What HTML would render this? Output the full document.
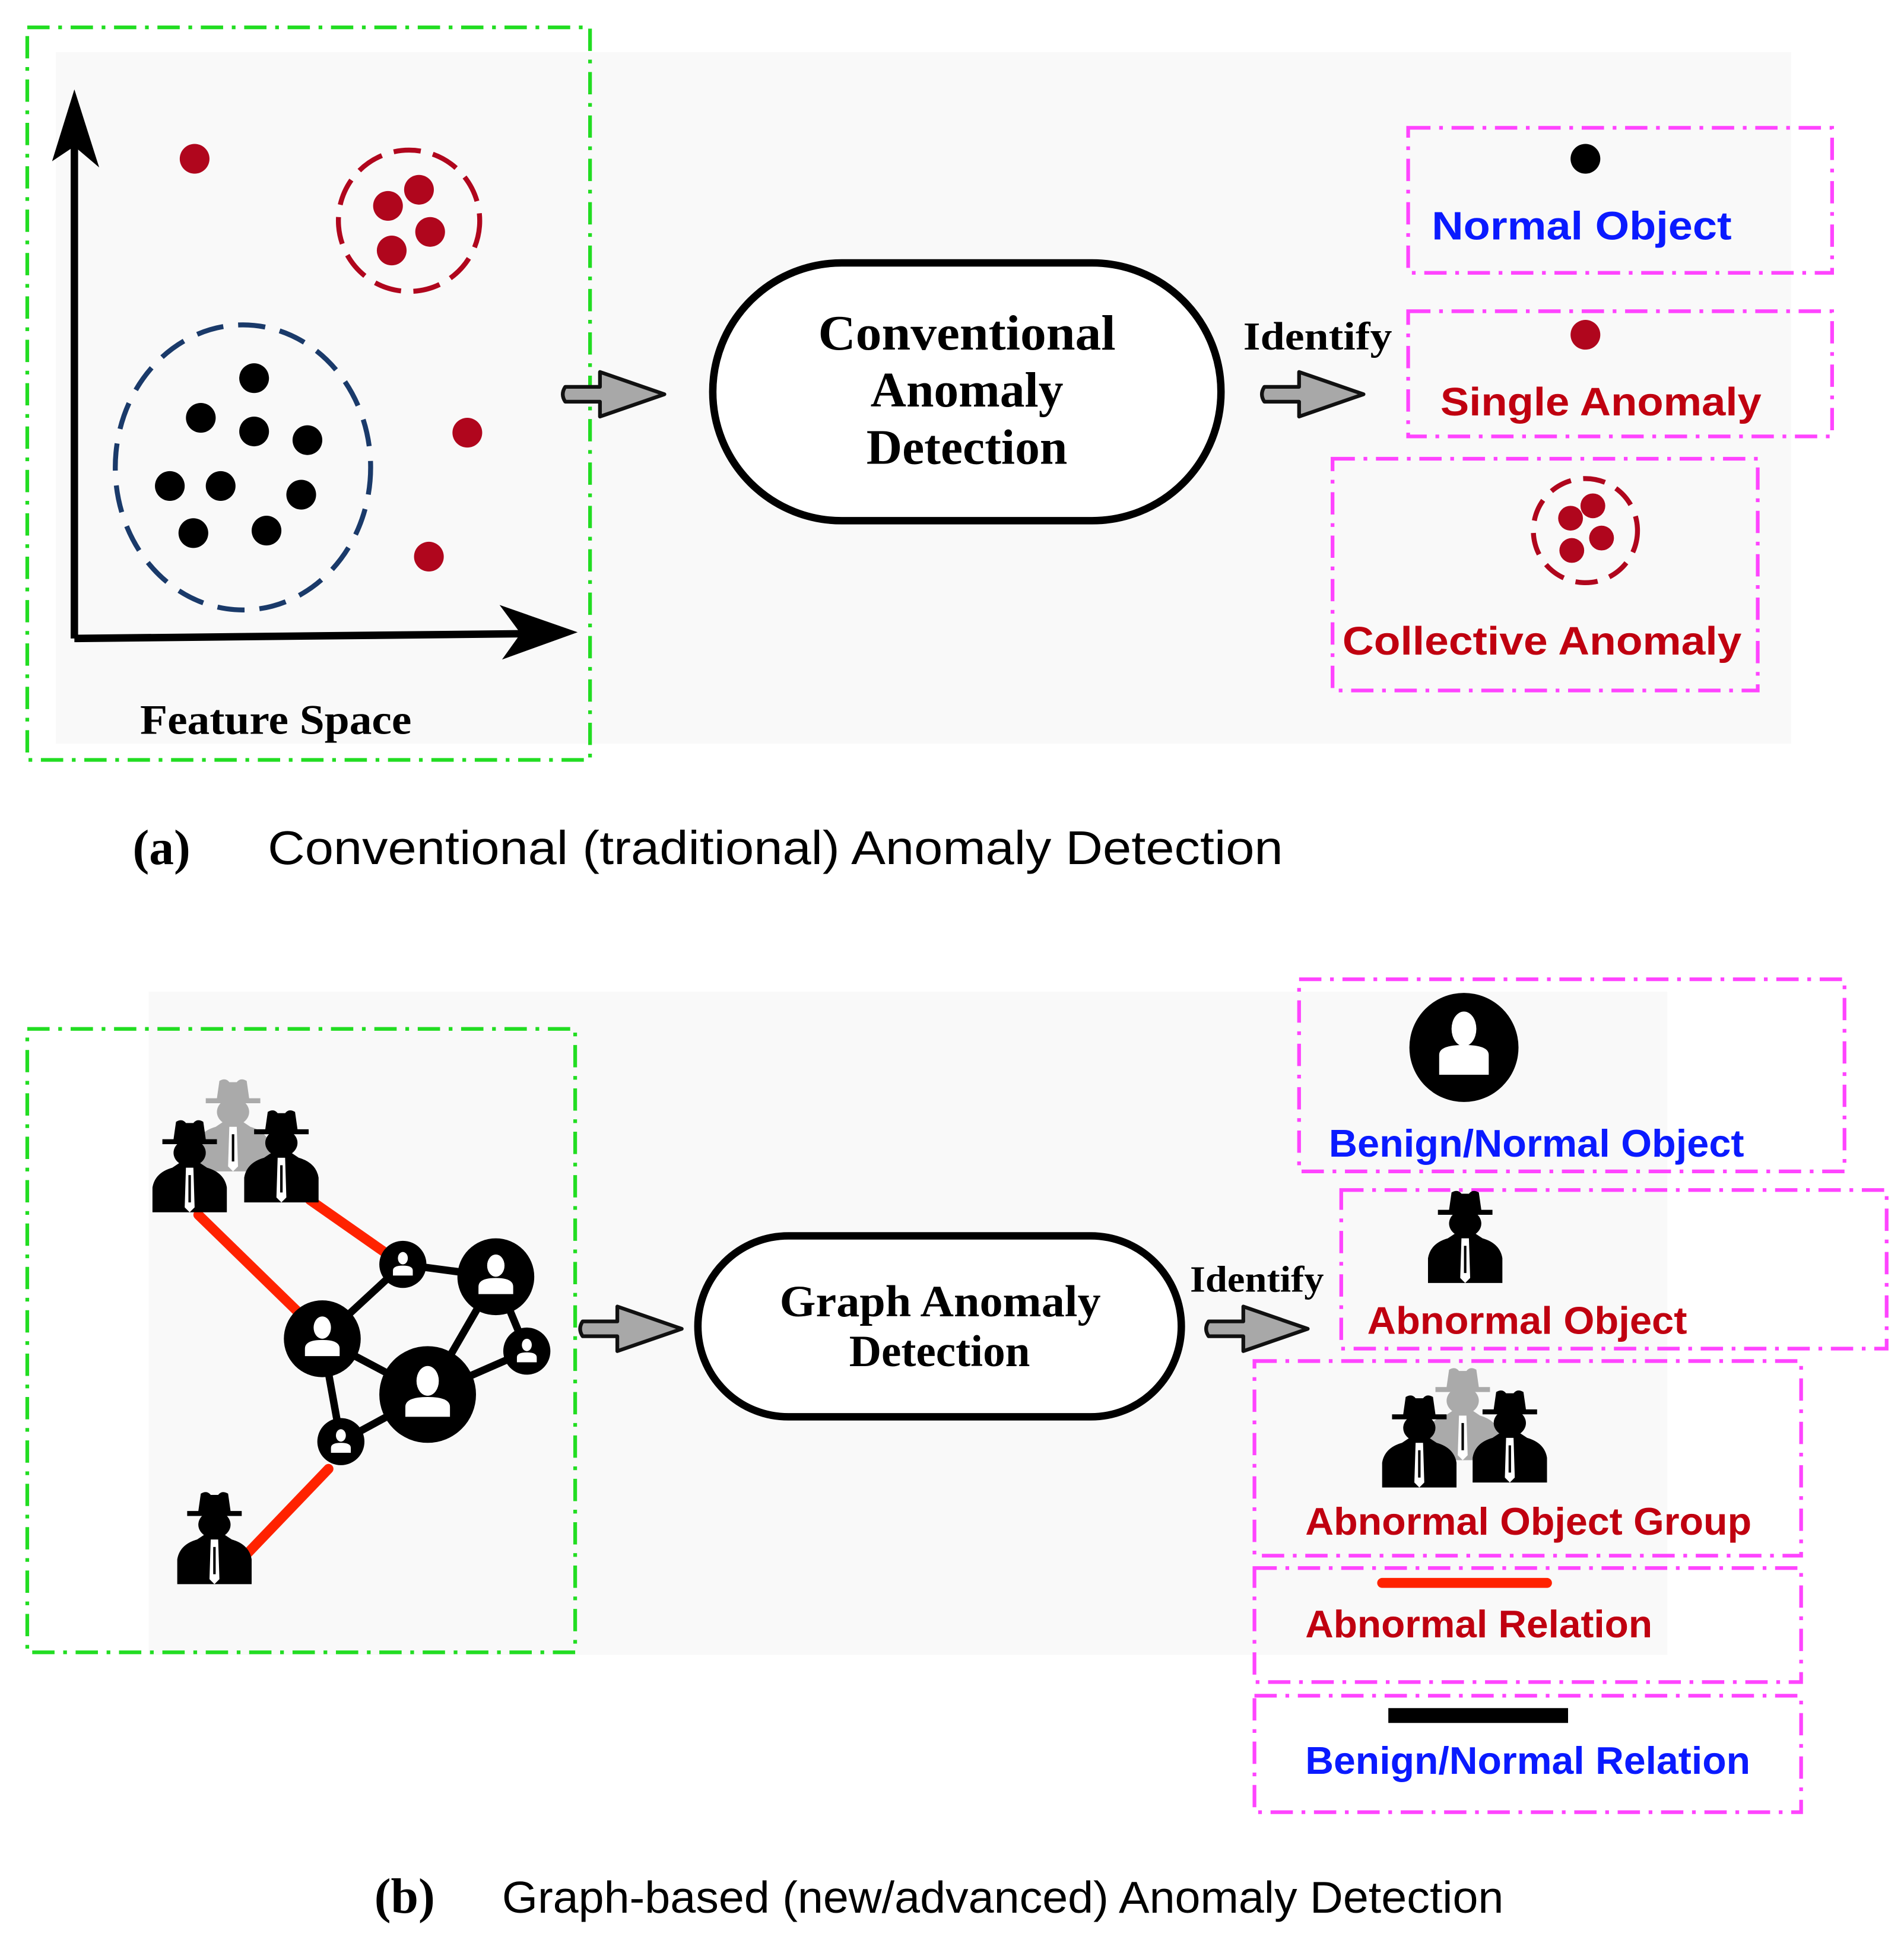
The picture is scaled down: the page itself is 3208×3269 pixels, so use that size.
<!DOCTYPE html>
<html><head><meta charset="utf-8"><style>
html,body{margin:0;padding:0;background:#fff;}
svg{display:block;}
.serif{font-family:"Liberation Serif",serif;font-weight:bold;}
.sans{font-family:"Liberation Sans",sans-serif;font-weight:bold;}
.cap{font-family:"Liberation Sans",sans-serif;}
</style></head><body>
<svg width="3208" height="3269" viewBox="0 0 1536 1565" xmlns="http://www.w3.org/2000/svg">
<defs>
  <g id="arrow">
    <path d="M0,-6 L28,-6 L28,-18 L80,0 L28,18 L28,6 L0,6 Q-4,0 0,-6 Z" fill="#a8a8a8" stroke="#111" stroke-width="3" stroke-linejoin="round"/>
  </g>
  <g id="spy">
    <path d="M-30,38 L-30,18 Q-28,6 -14,2 L-8,-2 L8,-2 L14,2 Q28,6 30,18 L30,38 Z"/>
    <ellipse cx="0" cy="-10" rx="13" ry="11"/>
    <path d="M-22,-17 L22,-17 L22,-21 L13,-21 L11,-35 Q6,-38 3,-34 L-3,-34 Q-6,-38 -11,-35 L-13,-21 L-22,-21 Z"/>
    <path d="M-3,2 L3,2 L4,34 L0,38 L-4,34 Z" fill="#fff" stroke="none"/>
    <path d="M-1,8 L1,8 L1,30 L-1,30 Z" fill="#000"/>
  </g>
</defs>

<!-- ============ Panel (a) ============ -->
<rect x="45" y="42" width="1400" height="558" fill="#f9f9f9"/>
<rect x="22" y="22" width="454" height="591" fill="none" stroke="#22dd22" stroke-width="3" stroke-dasharray="18 7 3 7"/>
<line x1="60" y1="515" x2="60" y2="95" stroke="#000" stroke-width="6"/>
<path d="M60,72 L80,135 L60,118 L42,130 Z" fill="#000"/>
<line x1="60" y1="515" x2="440" y2="511" stroke="#000" stroke-width="6"/>
<path d="M466,510 L405,532 L420,511 L403,488 Z" fill="#000"/>
<g fill="#b0061d">
  <circle cx="157" cy="128" r="12"/><circle cx="377" cy="349" r="12"/><circle cx="346" cy="449" r="12"/>
  <circle cx="313" cy="166" r="12"/><circle cx="338" cy="153" r="12"/><circle cx="347" cy="187" r="12"/><circle cx="316" cy="202" r="12"/>
</g>
<circle cx="330" cy="178" r="57" fill="none" stroke="#b0061d" stroke-width="4" stroke-dasharray="22 10"/>
<ellipse cx="196" cy="377" rx="103" ry="115" fill="none" stroke="#1a3a6a" stroke-width="4" stroke-dasharray="22 12"/>
<g fill="#000">
  <circle cx="205" cy="305" r="12"/><circle cx="162" cy="337" r="12"/><circle cx="205" cy="348" r="12"/><circle cx="248" cy="355" r="12"/>
  <circle cx="137" cy="392" r="12"/><circle cx="178" cy="392" r="12"/><circle cx="243" cy="399" r="12"/><circle cx="156" cy="430" r="12"/><circle cx="215" cy="428" r="12"/>
</g>
<text x="113" y="592" class="serif" font-size="34" textLength="219" lengthAdjust="spacingAndGlyphs">Feature Space</text>

<use href="#arrow" x="456" y="318"/>
<rect x="575" y="212" width="410" height="208" rx="104" fill="#fff" stroke="#000" stroke-width="6"/>
<text x="660" y="282" class="serif" font-size="40" textLength="240" lengthAdjust="spacingAndGlyphs">Conventional</text>
<text x="780" y="328" class="serif" font-size="40" text-anchor="middle">Anomaly</text>
<text x="780" y="374" class="serif" font-size="40" text-anchor="middle">Detection</text>
<text x="1003" y="282" class="serif" font-size="32" textLength="120" lengthAdjust="spacingAndGlyphs">Identify</text>
<use href="#arrow" x="1020" y="318"/>

<g fill="none" stroke="#ff44ff" stroke-width="3" stroke-dasharray="18 7 3 7">
  <rect x="1136" y="103" width="342" height="117"/>
  <rect x="1136" y="251" width="342" height="101"/>
  <rect x="1075" y="370" width="343" height="187"/>
</g>
<circle cx="1279" cy="128" r="12" fill="#000"/>
<text x="1155" y="193" class="sans" font-size="32" fill="#0a1aff" textLength="242" lengthAdjust="spacingAndGlyphs">Normal Object</text>
<circle cx="1279" cy="270" r="12" fill="#b0061d"/>
<text x="1162" y="335" class="sans" font-size="32" fill="#c00010" textLength="259" lengthAdjust="spacingAndGlyphs">Single Anomaly</text>
<circle cx="1279" cy="428" r="42" fill="none" stroke="#b0061d" stroke-width="4" stroke-dasharray="18 10"/>
<g fill="#b0061d"><circle cx="1267" cy="418" r="10"/><circle cx="1285" cy="408" r="10"/><circle cx="1292" cy="434" r="10"/><circle cx="1268" cy="444" r="10"/></g>
<text x="1083" y="528" class="sans" font-size="32" fill="#c00010" textLength="322" lengthAdjust="spacingAndGlyphs">Collective Anomaly</text>

<text x="107" y="697" class="serif" font-size="40">(a)</text>
<text x="216" y="697" class="cap" font-size="38" textLength="819" lengthAdjust="spacingAndGlyphs">Conventional (traditional) Anomaly Detection</text>

<!-- ============ Panel (b) ============ -->
<rect x="120" y="800" width="1225" height="535" fill="#f9f9f9"/>
<rect x="22" y="830" width="442" height="503" fill="none" stroke="#22dd22" stroke-width="3" stroke-dasharray="18 7 3 7"/>
<g stroke="#ff2200" stroke-width="8" stroke-linecap="round">
  <line x1="160" y1="980" x2="240" y2="1058"/>
  <line x1="250" y1="968" x2="310" y2="1010"/>
  <line x1="265" y1="1185" x2="195" y2="1258"/>
</g>
<g stroke="#000" stroke-width="6">
  <line x1="260" y1="1080" x2="325" y2="1020"/>
  <line x1="325" y1="1020" x2="400" y2="1030"/>
  <line x1="260" y1="1080" x2="345" y2="1125"/>
  <line x1="345" y1="1125" x2="400" y2="1030"/>
  <line x1="400" y1="1030" x2="425" y2="1090"/>
  <line x1="425" y1="1090" x2="345" y2="1125"/>
  <line x1="260" y1="1080" x2="275" y2="1163"/>
  <line x1="345" y1="1125" x2="275" y2="1163"/>
</g>
<g>
  <g transform="translate(260,1080)"><circle r="31"/><ellipse cy="-9" rx="7" ry="9" fill="#fff"/><path d="M-14,14 L-14,8 Q-14,1 0,1 Q14,1 14,8 L14,14 Z" fill="#fff"/></g>
  <g transform="translate(345,1125)"><circle r="39"/><ellipse cy="-11" rx="9" ry="12" fill="#fff"/><path d="M-18,18 L-18,10 Q-18,2 0,2 Q18,2 18,10 L18,18 Z" fill="#fff"/></g>
  <g transform="translate(400,1030)"><circle r="31"/><ellipse cy="-9" rx="7" ry="9" fill="#fff"/><path d="M-14,14 L-14,8 Q-14,1 0,1 Q14,1 14,8 L14,14 Z" fill="#fff"/></g>
  <g transform="translate(325,1020)"><circle r="19"/><ellipse cy="-5" rx="4" ry="5" fill="#fff"/><path d="M-8,9 L-8,5 Q-8,1 0,1 Q8,1 8,5 L8,9 Z" fill="#fff"/></g>
  <g transform="translate(425,1090)"><circle r="19"/><ellipse cy="-5" rx="4" ry="5" fill="#fff"/><path d="M-8,9 L-8,5 Q-8,1 0,1 Q8,1 8,5 L8,9 Z" fill="#fff"/></g>
  <g transform="translate(275,1163)"><circle r="19"/><ellipse cy="-5" rx="4" ry="5" fill="#fff"/><path d="M-8,9 L-8,5 Q-8,1 0,1 Q8,1 8,5 L8,9 Z" fill="#fff"/></g>
</g>
<use href="#spy" x="188" y="907" fill="#aaa"/>
<use href="#spy" x="153" y="940" fill="#000"/>
<use href="#spy" x="227" y="932" fill="#000"/>
<use href="#spy" x="173" y="1240" fill="#000"/>

<use href="#arrow" x="470" y="1072"/>
<rect x="563" y="997" width="390" height="146" rx="73" fill="#fff" stroke="#000" stroke-width="6"/>
<text x="629" y="1062" class="serif" font-size="36" textLength="259" lengthAdjust="spacingAndGlyphs">Graph Anomaly</text>
<text x="758" y="1102" class="serif" font-size="36" text-anchor="middle">Detection</text>
<text x="960" y="1042" class="serif" font-size="30" textLength="108" lengthAdjust="spacingAndGlyphs">Identify</text>
<use href="#arrow" x="975" y="1072"/>

<g fill="none" stroke="#ff44ff" stroke-width="3" stroke-dasharray="18 7 3 7">
  <rect x="1048" y="790" width="440" height="155"/>
  <rect x="1082" y="960" width="440" height="128"/>
  <rect x="1012" y="1098" width="441" height="157"/>
  <rect x="1012" y="1265" width="441" height="92"/>
  <rect x="1012" y="1368" width="441" height="94"/>
</g>
<g transform="translate(1181,845)"><ellipse rx="44" ry="44"/><ellipse cy="-15" rx="10" ry="14" fill="#fff"/><path d="M-20,22 L-20,6 Q-20,-2 0,-2 Q20,-2 20,6 L20,22 Z" fill="#fff"/></g>
<text x="1072" y="933" class="sans" font-size="31" fill="#0a1aff" textLength="335" lengthAdjust="spacingAndGlyphs">Benign/Normal Object</text>
<use href="#spy" x="1182" y="997" fill="#000"/>
<text x="1103" y="1076" class="sans" font-size="31" fill="#c00010" textLength="258" lengthAdjust="spacingAndGlyphs">Abnormal Object</text>
<use href="#spy" x="1180" y="1140" fill="#aaa"/>
<use href="#spy" x="1145" y="1162" fill="#000"/>
<use href="#spy" x="1218" y="1158" fill="#000"/>
<text x="1053" y="1238" class="sans" font-size="31" fill="#c00010" textLength="360" lengthAdjust="spacingAndGlyphs">Abnormal Object Group</text>
<line x1="1115" y1="1277" x2="1248" y2="1277" stroke="#ff2200" stroke-width="8" stroke-linecap="round"/>
<text x="1053" y="1321" class="sans" font-size="31" fill="#c00010" textLength="280" lengthAdjust="spacingAndGlyphs">Abnormal Relation</text>
<line x1="1120" y1="1384" x2="1265" y2="1384" stroke="#000" stroke-width="12"/>
<text x="1053" y="1431" class="sans" font-size="31" fill="#0a1aff" textLength="359" lengthAdjust="spacingAndGlyphs">Benign/Normal Relation</text>

<text x="302" y="1543" class="serif" font-size="40">(b)</text>
<text x="405" y="1543" class="cap" font-size="36" textLength="808" lengthAdjust="spacingAndGlyphs">Graph-based (new/advanced) Anomaly Detection</text>
</svg>
</body></html>
